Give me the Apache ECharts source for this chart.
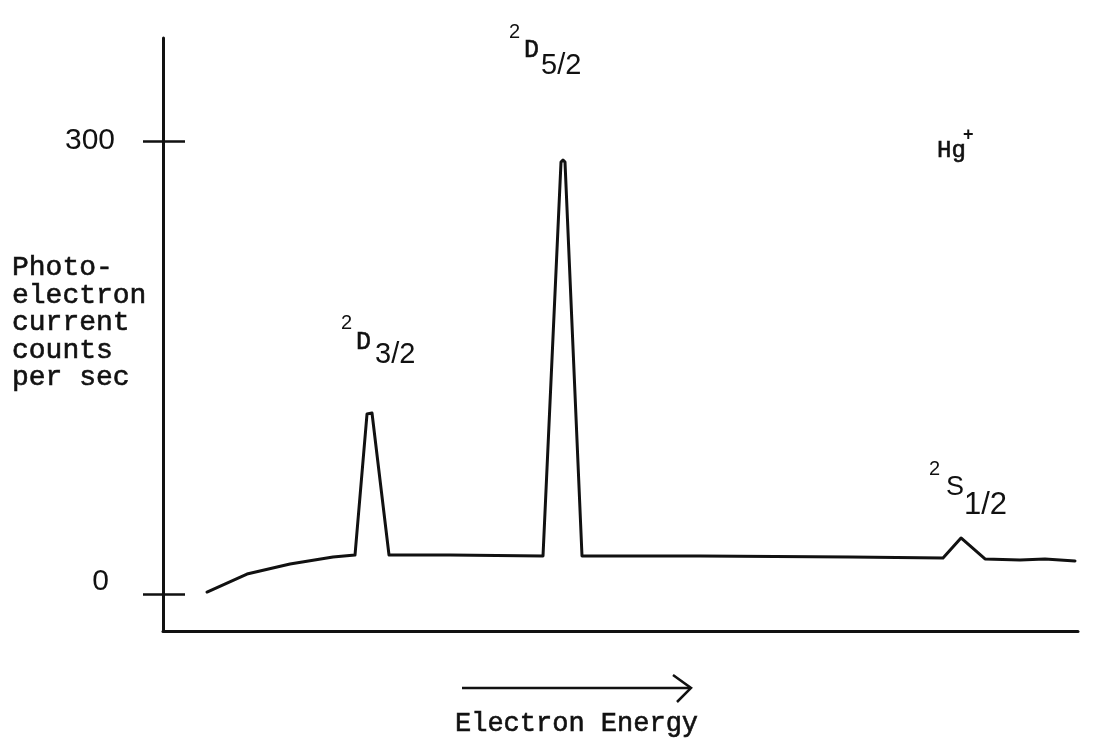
<!DOCTYPE html>
<html>
<head>
<meta charset="utf-8">
<script src="https://cdn.jsdelivr.net/npm/echarts@6/dist/echarts.min.js"></script>
<style>
  html, body { margin: 0; padding: 0; background: #fff; }
  #chart { width: 1095px; height: 744px; }
</style>
</head>
<body>
<div id="chart"></div>
<script>
// Electron energy (arbitrary units, increasing to the right)
var energy = [44, 84, 127, 170, 192, 204, 206, 209, 226, 287, 380, 398, 400, 402, 419, 537, 687, 780, 798, 822, 857, 882, 912];
// Photoelectron current, counts per sec
var counts = [1.3, 13.2, 19.9, 24.5, 25.8, 119.2, 120.5, 119.9, 25.8, 25.8, 25.2, 286, 287.4, 286, 25.2, 25.2, 24.5, 23.8, 37.1, 23.2, 22.5, 23.2, 21.9];
var yTickValues = [0, 300];

var ink = '#111';
var mono = '"Liberation Mono", "Courier New", monospace';
var hand = '"Liberation Sans", "DejaVu Sans", sans-serif';

var pts = energy.map(function (e, i) { return [e, counts[i]]; });

function typed(x, y, text, size, extra) {
  var st = { text: text, font: size + 'px ' + mono, fill: ink, stroke: ink, lineWidth: 0.6, textVerticalAlign: 'middle' };
  if (extra) { for (var k in extra) st[k] = extra[k]; }
  return { type: 'text', x: x, y: y, style: st };
}
function handText(x, y, text, size) {
  return { type: 'text', x: x, y: y, style: { text: text, font: size + 'px ' + hand, fill: ink, textVerticalAlign: 'middle' } };
}

var chart = echarts.init(document.getElementById('chart'));
chart.setOption({
  animation: false,
  backgroundColor: '#fff',
  grid: { left: 163, right: 17, top: 38, bottom: 113 },
  xAxis: {
    type: 'value', min: 0, max: 915,
    axisLine: { show: true, onZero: false, lineStyle: { color: ink, width: 3 } },
    axisTick: { show: false }, axisLabel: { show: false }, splitLine: { show: false }
  },
  yAxis: [{
    type: 'value', min: -24.5, max: 368.2,
    axisLine: { show: true, onZero: false, lineStyle: { color: ink, width: 3 } },
    axisTick: { show: true, length: 20, inside: false, customValues: yTickValues, lineStyle: { color: ink, width: 2.5 } },
    axisLabel: {
      show: true, customValues: yTickValues, margin: 48,
      formatter: function (v) { return v === 0 ? '{z|0}' : '{a|' + v + '}'; },
      rich: {
        a: { fontFamily: hand, fontSize: 30, color: ink },
        z: { fontFamily: hand, fontSize: 30, color: ink, padding: [0, 6, 24, 0] }
      }
    },
    splitLine: { show: false }
  }, {
    type: 'value', min: -24.5, max: 368.2, position: 'left',
    axisLine: { show: false, onZero: false },
    axisTick: { show: true, length: 22, inside: true, customValues: yTickValues, lineStyle: { color: ink, width: 2.5 } },
    axisLabel: { show: false }, splitLine: { show: false }
  }],
  series: [{
    type: 'line', data: pts, yAxisIndex: 0,
    showSymbol: false, symbol: 'none', smooth: false,
    lineStyle: { color: ink, width: 3, join: 'round', cap: 'round' }
  }],
  graphic: [
    // y-axis title
    typed(12, 323, 'Photo-\nelectron\ncurrent\ncounts\nper sec', 28, { lineHeight: 27.5 }),
    // x-axis arrow + title
    { type: 'line', shape: { x1: 462, y1: 688, x2: 690, y2: 688 }, style: { stroke: ink, lineWidth: 2.5 } },
    { type: 'polyline', shape: { points: [[673, 675], [691, 688], [677, 702]] }, style: { stroke: ink, lineWidth: 2.5, fill: null } },
    typed(455, 724, 'Electron Energy', 27),
    // 2D3/2
    handText(341, 323, '2', 20),
    typed(356, 342, 'D', 25),
    handText(375, 355, '3/2', 29),
    // 2D5/2
    handText(509, 32, '2', 20),
    typed(524, 50, 'D', 25),
    handText(541, 66, '5/2', 29),
    // 2S1/2
    handText(929, 469, '2', 20),
    handText(946, 488, 'S', 27),
    handText(964, 505, '1/2', 31),
    // Hg+
    typed(937, 151, 'Hg', 24),
    { type: 'text', x: 963, y: 135, style: { text: '+', font: 'bold 18px ' + hand, fill: ink, textVerticalAlign: 'middle' } }
  ]
});
</script>
</body>
</html>
